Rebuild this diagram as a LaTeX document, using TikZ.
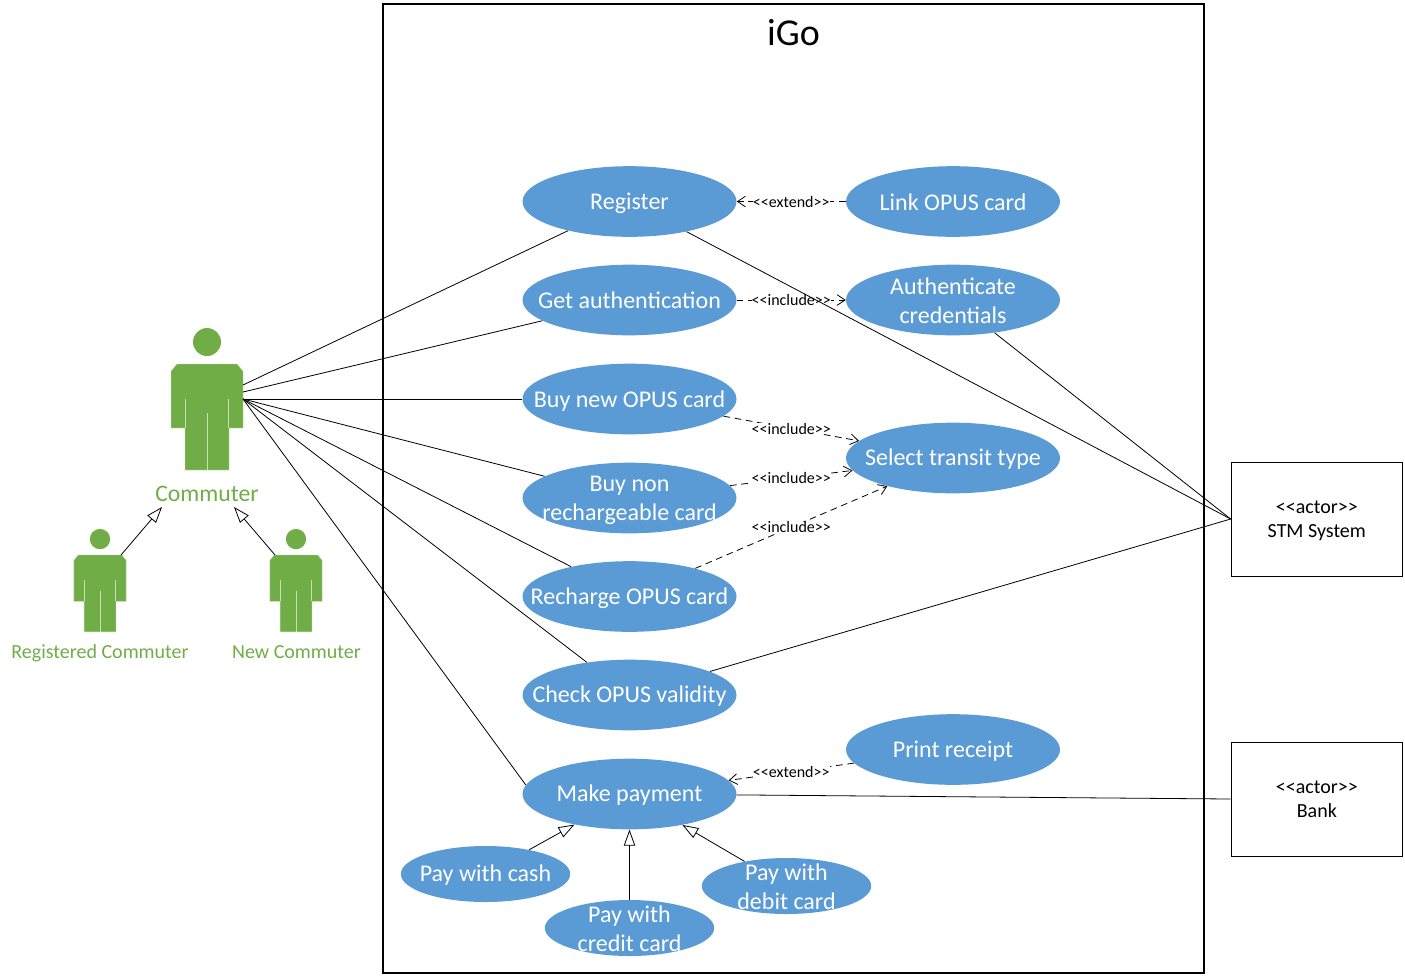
\documentclass[tikz,border=0pt]{standalone}
\usepackage{fontspec}
\setmainfont{Carlito}
\usetikzlibrary{arrows.meta,positioning,shapes.geometric}
\definecolor{CaseBlue}{HTML}{5B9BD5}
\definecolor{ActorGreen}{HTML}{70AD47}
\definecolor{ActorEdge}{HTML}{C5E0B4}
\tikzset{
  usecase/.style={ellipse,fill=CaseBlue,minimum width=160.5pt,minimum height=53pt,inner sep=0pt},
  paycase/.style={usecase,minimum width=127pt,minimum height=42pt},
  every label/.style={text=white,align=center,font=\fontsize{18}{21.6}\selectfont,inner sep=0pt,yshift=-.8pt},
  actorbox/.style={draw=black,line width=.75pt,fill=white,minimum width=128.5pt,minimum height=85.5pt},
  boxtext/.style={text=black,font=\fontsize{15}{18}\selectfont,yshift=-.9pt},
  actorname/.style={text=ActorGreen,inner sep=0pt},
  assoc/.style={draw=black,line width=.6pt},
  dep/.style={draw=black,line width=.6pt,dash pattern=on 5pt off 3.5pt,-{Straight Barb[length=6pt,width=8pt]}},
  deplabel/.style={fill=white,inner sep=0pt,font=\fontsize{12}{13}\selectfont},
  general/.style={draw=black,line width=.6pt,-{Triangle[open,fill=white,length=12pt,width=8.5pt]}},
  pics/actorfig/.style={code={
    \fill[ActorGreen] (0,-22) circle (14);
    \fill[ActorGreen,draw=ActorEdge,line width=.3pt] (-30,0)--(30,0)--(36,7)--(36,64)--(22,64)--(22,106)
      --(-22,106)--(-22,64)--(-36,64)--(-36,7)--cycle;
    \draw[ActorEdge,line width=.75pt] (-21.5,35)--(-21.5,64) (21.5,35)--(21.5,64) (0,49)--(0,106);
  }}
}
\begin{document}
\begin{tikzpicture}[x=.75pt,y=-.75pt]
  \useasboundingbox (0,0) rectangle (1405,976);
  \node[draw=black,line width=1.5pt,minimum width=615.75pt,minimum height=726.75pt,inner sep=0pt]
    (system) at (793.5,488.5) {};
  \node[inner sep=0pt,font=\fontsize{28.5}{30}\selectfont] (title) at (793.5,33) {iGo};

  % actors
  \pic at (207,364) {actorfig};
  \pic[scale=.725] at (100,555) {actorfig};
  \pic[scale=.725] at (296,555) {actorfig};
  \node[actorname,font=\fontsize{17.8}{20}\selectfont] (commuter) at (207,493.5) {Commuter};
  \node[actorname,font=\fontsize{15}{18}\selectfont] (regcommuter) at (100,653.5) {Registered Commuter};
  \node[actorname,font=\fontsize{15}{18}\selectfont] (newcommuter) at (296.5,652) {New Commuter};
  \coordinate (commuterA) at (243,385);
  \coordinate (commuterB) at (243,392);
  \coordinate (commuterC) at (243,399);
  \coordinate (commuterL) at (162,507);
  \coordinate (commuterR) at (234,507);
  \coordinate (regtop) at (121,555);
  \coordinate (newtop) at (275,555);

  % use cases
  \node[usecase,label={[yshift=-.7pt]center:Register}] (register) at (629.5,201.5) {};
  \node[usecase,label={[yshift=.7pt]center:Get authentication}] (getauth) at (629.5,300) {};
  \node[usecase,label={[yshift=-.4pt]center:Buy new OPUS card}] (buynew) at (629.5,399) {};
  \node[usecase,label={[yshift=-1pt]center:Buy non\\rechargeable card}] (buynon) at (629.5,498) {};
  \node[usecase,label={[yshift=-.8pt]center:Recharge OPUS card}] (recharge) at (629.5,596.5) {};
  \node[usecase,label={center:Check OPUS validity}] (check) at (629.5,695) {};
  \node[usecase,label={center:Make payment}] (payment) at (629.5,794) {};
  \node[usecase,label={center:Link OPUS card}] (link) at (953,201.5) {};
  \node[usecase,label={center:Authenticate\\credentials}] (authcred) at (953,300) {};
  \node[usecase,label={center:Select transit type}] (transit) at (953,458) {};
  \node[usecase,label={[yshift=-.7pt]center:Print receipt}] (receipt) at (953,749.5) {};
  \node[paycase,label={center:Pay with cash}] (cash) at (485.5,874) {};
  \node[paycase,label={center:Pay with\\credit card}] (credit) at (629.5,928) {};
  \node[paycase,label={center:Pay with\\debit card}] (debit) at (786.5,886) {};

  % external actors
  \node[actorbox,label={[boxtext]center:<{}<actor>{}>\\STM System}] (stm) at (1316.8,519) {};
  \node[actorbox,label={[boxtext,yshift=1.5pt]center:<{}<actor>{}>\\Bank}] (bank) at (1316.8,799) {};

  \draw[dep] (link) -- node[deplabel]{<{}<extend>{}>} (register);
  \draw[dep] (getauth) -- node[deplabel]{<{}<include>{}>} (authcred);
  \draw[dep] (buynew) -- node[deplabel]{<{}<include>{}>} (transit);
  \draw[dep] (buynon) -- node[deplabel]{<{}<include>{}>} (transit);
  \draw[dep] (recharge) -- node[deplabel]{<{}<include>{}>} (transit);
  \draw[dep] (receipt) -- node[deplabel]{<{}<extend>{}>} (payment);

  \draw[assoc] (commuterA) -- (register);
  \draw[assoc] (commuterB) -- (getauth);
  \draw[assoc] (commuterC) -- (buynew);
  \draw[assoc] (commuterC) -- (buynon);
  \draw[assoc] (commuterC) -- (recharge);
  \draw[assoc] (commuterC) -- (check);
  \draw[assoc] (commuterC) -- (payment.175);
  \draw[assoc] (register) -- (stm.west);
  \draw[assoc] (authcred) -- (stm.west);
  \draw[assoc] (check) -- (stm.west);
  \draw[assoc] (payment) -- (bank.west);

  \draw[general] (regtop) -- (commuterL);
  \draw[general] (newtop) -- (commuterR);
  \draw[general] (cash) -- (payment);
  \draw[general] (credit) -- (payment);
  \draw[general] (debit) -- (payment);
\end{tikzpicture}
\end{document}
